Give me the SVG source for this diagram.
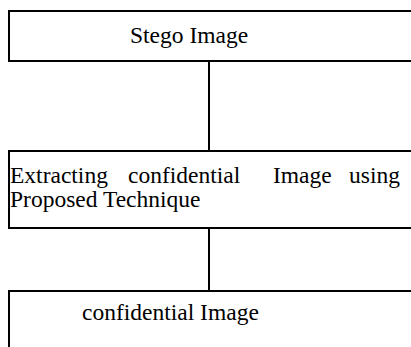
<svg xmlns="http://www.w3.org/2000/svg" width="411" height="347" viewBox="0 0 411 347">
<style>
.box{fill:#fff;stroke:#000;stroke-width:2}
.lbl{font-family:"Liberation Serif","Times New Roman",serif;font-size:23.5px;fill:#000}
.conn{stroke:#000;stroke-width:2;fill:none}
</style>
<rect width="411" height="347" fill="#fff"/>
<g id="connectors">
<line class="conn" x1="209" y1="61" x2="209" y2="151"/>
<line class="conn" x1="209" y1="228" x2="209" y2="291"/>
</g>
<g id="node-stego">
<rect class="box" x="9" y="11" width="420" height="50"/>
<text class="lbl" x="130" y="43">Stego Image</text>
</g>
<g id="node-extract">
<rect class="box" x="9" y="151" width="420" height="77"/>
<text class="lbl" y="183"><tspan x="10">Extracting</tspan><tspan x="128">confidential</tspan><tspan x="273">Image</tspan><tspan x="349">using</tspan></text>
<text class="lbl" x="10" y="207">Proposed Technique</text>
</g>
<g id="node-confidential">
<rect class="box" x="9" y="291" width="420" height="80"/>
<text class="lbl" x="82" y="320">confidential Image</text>
</g>
</svg>
